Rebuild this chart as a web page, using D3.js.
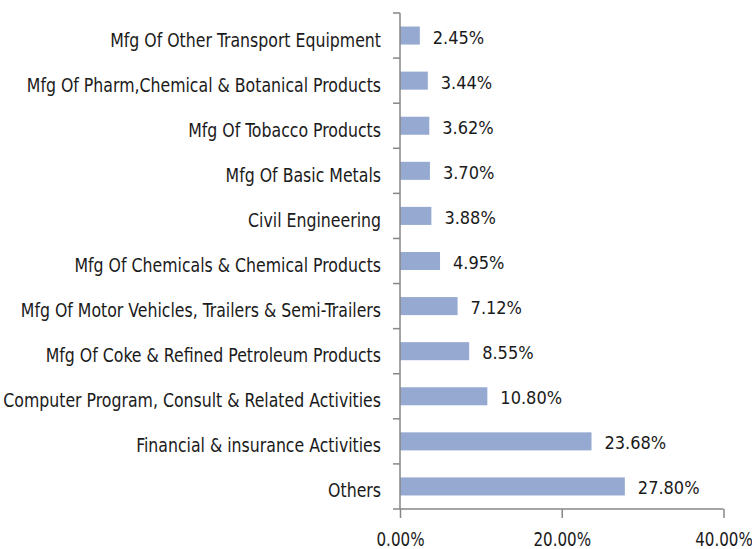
<!DOCTYPE html>
<html>
<head>
<meta charset="utf-8">
<script src="https://cdn.jsdelivr.net/npm/d3@7"></script>
<style>
  body { margin: 0; background: #fff; }
  text { font-family: "DejaVu Sans Condensed", "DejaVu Sans", sans-serif; fill: #1a1a1a; }
</style>
</head>
<body>
<script>
const categories = [
  "Mfg Of Other Transport Equipment",
  "Mfg Of Pharm,Chemical & Botanical Products",
  "Mfg Of Tobacco Products",
  "Mfg Of Basic Metals",
  "Civil Engineering",
  "Mfg Of Chemicals & Chemical Products",
  "Mfg Of Motor Vehicles, Trailers & Semi-Trailers",
  "Mfg Of Coke & Refined Petroleum Products",
  "Computer Program, Consult & Related Activities",
  "Financial & insurance Activities",
  "Others"
]
const values = [2.45, 3.44, 3.62, 3.70, 3.88, 4.95, 7.12, 8.55, 10.80, 23.68, 27.80]
const xTicks = [0, 20, 40]

const w = 752
const h = 549
const x0 = 400     // x of the value axis zero
const x1 = 723.5
const y0 = 13
const y1 = 509
const squeeze = 0.875 // horizontal squeeze of the category labels (narrow look)

const svg = d3.select("body")
              .append("svg")
              .attr("width", w)
              .attr("height", h)

const x = d3.scaleLinear().domain([0, 40]).range([x0, x1])
const y = d3.scaleBand().domain(categories).range([y0, y1]).paddingInner(0.6).paddingOuter(0.3)

// squeeze a text horizontally, keeping its height
function narrow(sel, k) {
  sel.each(function() {
    const len = this.getComputedTextLength()
    d3.select(this).attr("textLength", len * k).attr("lengthAdjust", "spacingAndGlyphs")
  })
}

// bars
svg.selectAll("rect.bar")
   .data(values)
   .enter()
   .append("rect")
   .attr("class", "bar")
   .attr("x", x(0))
   .attr("y", (d, i) => y(categories[i]))
   .attr("width", d => x(d) - x(0))
   .attr("height", y.bandwidth())
   .attr("fill", "#95a9d1")

// value labels
svg.selectAll("text.val")
   .data(values)
   .enter()
   .append("text")
   .attr("class", "val")
   .attr("x", d => x(d) + 13)
   .attr("y", (d, i) => y(categories[i]) + y.bandwidth() / 2 + 8)
   .style("font-size", "18px")
   .text(d => d.toFixed(2) + "%")

// category axis
const yAxis = svg.append("g")
   .attr("transform", `translate(${x0},0)`)
   .call(d3.axisLeft(y).tickSize(0).tickPadding(19))
yAxis.select(".domain").remove()
yAxis.selectAll("text")
   .style("font-size", "20px")
   .attr("fill", "#1a1a1a")
   .attr("dy", "0.35em")
   .attr("y", 4)
   .call(narrow, squeeze)

// axis line and category separators
svg.append("line")
   .attr("x1", x0).attr("x2", x0)
   .attr("y1", y0).attr("y2", y1)
   .attr("stroke", "#878787").attr("stroke-width", 1.5)
svg.selectAll("line.ytick")
   .data(d3.range(categories.length + 1))
   .enter()
   .append("line")
   .attr("class", "ytick")
   .attr("x1", x0 - 7).attr("x2", x0)
   .attr("y1", i => y0 + i * y.step())
   .attr("y2", i => y0 + i * y.step())
   .attr("stroke", "#878787").attr("stroke-width", 1.5)

// value axis
const xAxis = svg.append("g")
   .attr("transform", `translate(0,${y1})`)
   .call(d3.axisBottom(x).tickValues(xTicks).tickSize(9).tickPadding(14).tickFormat(d => d.toFixed(2) + "%"))
xAxis.select(".domain").attr("stroke", "#878787").attr("stroke-width", 1.5).attr("d", `M${x0},0H${x1}`)
xAxis.selectAll(".tick line").attr("stroke", "#878787").attr("stroke-width", 1.5)
xAxis.selectAll("text")
   .style("font-size", "20px")
   .attr("fill", "#1a1a1a")
   .call(narrow, 0.84)
</script>
</body>
</html>
